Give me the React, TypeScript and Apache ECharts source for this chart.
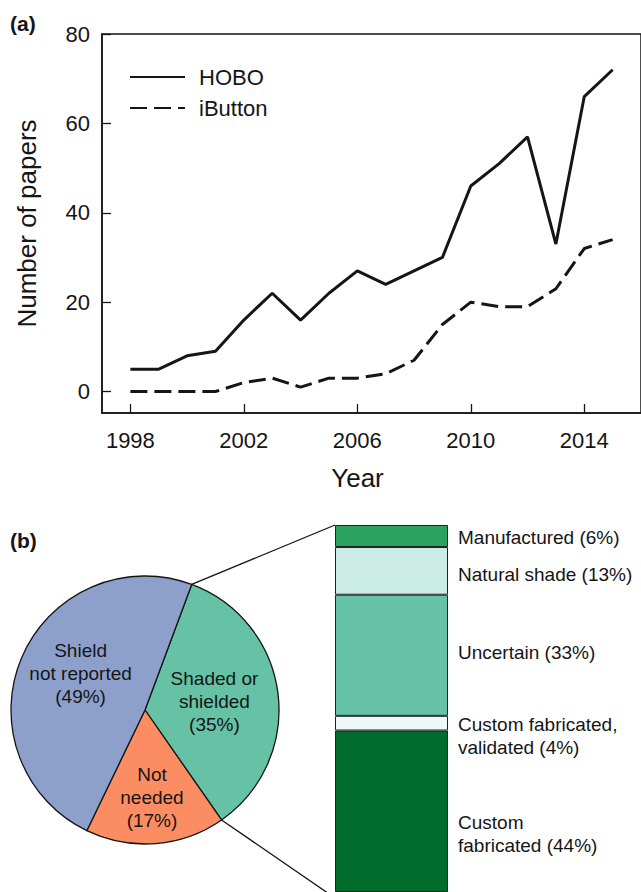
import React, { useEffect, useRef } from "react";
import * as echarts from "echarts";

const years = [1998, 1999, 2000, 2001, 2002, 2003, 2004, 2005, 2006, 2007, 2008, 2009, 2010, 2011, 2012, 2013, 2014, 2015];
const hobo = [5, 5, 8, 9, 16, 22, 16, 22, 27, 24, 27, 30, 46, 51, 57, 33, 66, 72];
const ibutton = [0, 0, 0, 0, 2, 3, 1, 3, 3, 4, 7, 15, 20, 19, 19, 23, 32, 34];
const xTicks = [1998, 2002, 2006, 2010, 2014];
const yTicks = [0, 20, 40, 60, 80];

const pieNames = ["Shaded or\nshielded", "Not\nneeded", "Shield\nnot reported"];
const pieValues = [35, 17, 49];
const pieColors = ["#66c2a5", "#fc8d62", "#8da0cb"];

const barNames = ["Manufactured", "Natural shade", "Uncertain", "Custom fabricated,\nvalidated", "Custom\nfabricated"];
const barValues = [6, 13, 33, 4, 44];
const barColors = ["#2ca25f", "#ccece6", "#66c2a4", "#edf8fb", "#006d2c"];

const FONT = "Liberation Sans, Arial, sans-serif";
const INK = "#151515";

// layout
const PIE_CX = 145;
const PIE_CY = 710;
const PIE_R = 134;
const PIE_START = 69.6; // degrees, echarts convention
const BAR_LEFT = 335;
const BAR_TOP = 525;
const BAR_W = 113;
const BAR_H = 373;
const LABEL_SIZE = 19;

// vertical nudges of labels (px, + = down)
const pieLabelShift = [0, 0, -9];
const barLabelShift = [1, 4, -3, 13, 23];

const withShift = (text: string, d: number) => {
  if (!d) return text;
  const h = Math.abs(d) * 2;
  const spacer = `{sp${h}| }`;
  return d > 0 ? `${spacer}\n${text}` : `${text}\n${spacer}`;
};
const spacerRich = (shifts: number[]) => {
  const rich: Record<string, any> = {};
  shifts.forEach((d) => {
    if (d) rich[`sp${Math.abs(d) * 2}`] = { lineHeight: Math.abs(d) * 2, fontSize: 1, height: Math.abs(d) * 2 };
  });
  return rich;
};

export default function App() {
  const ref = useRef<HTMLDivElement>(null);
  useEffect(() => {
    if (!ref.current) return;
    const chart = echarts.init(ref.current, undefined, { renderer: "svg" });

    const total = pieValues.reduce((a, b) => a + b, 0);
    // clockwise angles from north, in degrees
    const a1 = 90 - PIE_START;
    const a2 = a1 + (pieValues[0] / total) * 360;
    const pt = (deg: number) => {
      const r = (deg * Math.PI) / 180;
      return [PIE_CX + PIE_R * Math.sin(r), PIE_CY - PIE_R * Math.cos(r)];
    };
    const p1 = pt(a1);
    const p2 = pt(a2);

    const pieLabelBase = {
      position: "inside",
      fontSize: LABEL_SIZE,
      lineHeight: 23,
      color: INK,
      fontFamily: FONT,
      rich: spacerRich(pieLabelShift),
    };

    chart.setOption({
      animation: false,
      textStyle: { fontFamily: FONT },
      grid: [
        { left: 102, top: 34, width: 542, height: 379, show: true, borderColor: INK, borderWidth: 1.5, containLabel: false },
        { left: BAR_LEFT, top: BAR_TOP, width: BAR_W, height: BAR_H, containLabel: false },
      ],
      legend: {
        data: ["HOBO", "iButton"],
        orient: "vertical",
        left: 129,
        top: 66,
        padding: 0,
        itemWidth: 55,
        itemHeight: 20,
        itemGap: 9,
        itemStyle: { opacity: 0 },
        textStyle: { fontSize: 22, color: INK, fontFamily: FONT, padding: [0, 0, 0, 9] },
        selectedMode: false,
      },
      xAxis: [
        {
          gridIndex: 0,
          type: "value",
          min: 1997,
          max: 2016,
          name: "Year",
          nameLocation: "middle",
          nameGap: 52,
          nameTextStyle: { fontSize: 26, color: INK, fontFamily: FONT, padding: [0, 28, 0, 0] },
          axisLine: { show: true, onZero: false, lineStyle: { color: INK, width: 1.5 } },
          axisTick: { show: true, inside: true, length: 9, customValues: xTicks, lineStyle: { color: INK, width: 1.3 } },
          axisLabel: { customValues: xTicks, fontSize: 22, color: INK, margin: 16, fontFamily: FONT, formatter: (v: number) => String(v) },
          splitLine: { show: false },
        },
        { gridIndex: 1, type: "category", data: ["shield"], show: false },
      ],
      yAxis: [
        {
          gridIndex: 0,
          type: "value",
          min: -4.8,
          max: 80,
          name: "Number of papers",
          nameLocation: "middle",
          nameGap: 62,
          nameTextStyle: { fontSize: 26, color: INK, fontFamily: FONT },
          axisLine: { show: true, onZero: false, lineStyle: { color: INK, width: 1.5 } },
          axisTick: { show: true, inside: true, length: 9, customValues: yTicks, lineStyle: { color: INK, width: 1.3 } },
          axisLabel: { customValues: yTicks, fontSize: 22, color: INK, margin: 12, fontFamily: FONT, formatter: (v: number) => String(v) },
          splitLine: { show: false },
        },
        { gridIndex: 1, type: "value", min: 0, max: 100, inverse: true, show: false },
      ],
      series: [
        {
          name: "HOBO",
          type: "line",
          xAxisIndex: 0,
          yAxisIndex: 0,
          data: years.map((y, i) => [y, hobo[i]]),
          symbol: "none",
          lineStyle: { color: INK, width: 3 },
          itemStyle: { color: INK },
        },
        {
          name: "iButton",
          type: "line",
          xAxisIndex: 0,
          yAxisIndex: 0,
          data: years.map((y, i) => [y, ibutton[i]]),
          symbol: "none",
          lineStyle: { color: INK, width: 3, type: [17, 7] },
          itemStyle: { color: INK },
        },
        {
          type: "pie",
          center: [PIE_CX, PIE_CY],
          radius: PIE_R,
          startAngle: PIE_START,
          clockwise: true,
          silent: true,
          emphasis: { disabled: true },
          itemStyle: { borderColor: INK, borderWidth: 1.3 },
          label: {
            ...pieLabelBase,
            show: true,
            formatter: (p: any) => withShift(`${p.name}\n(${p.value}%)`, pieLabelShift[p.dataIndex]),
          },
          labelLine: { show: false },
          data: pieNames.map((n, i) => ({
            name: n,
            value: pieValues[i],
            itemStyle: { color: pieColors[i] },
            label: { show: i !== 1 },
          })),
        },
        {
          // label carrier for the narrow slice: same angles, wider radius
          type: "pie",
          center: [PIE_CX, PIE_CY],
          radius: [0, 170],
          startAngle: PIE_START,
          clockwise: true,
          silent: true,
          z: 3,
          emphasis: { disabled: true },
          itemStyle: { color: "rgba(0,0,0,0)", borderWidth: 0 },
          label: {
            ...pieLabelBase,
            show: true,
            formatter: (p: any) => `${p.name}\n(${p.value}%)`,
          },
          labelLine: { show: false },
          data: pieNames.map((n, i) => ({
            name: n,
            value: pieValues[i],
            label: { show: i === 1 },
          })),
        },
        ...barNames.map((n, i) => ({
          name: n,
          type: "bar",
          xAxisIndex: 1,
          yAxisIndex: 1,
          stack: "shield",
          barWidth: BAR_W,
          silent: true,
          data: [barValues[i]],
          itemStyle: { color: barColors[i], borderColor: "#222", borderWidth: 1 },
          label: {
            show: true,
            position: "right",
            distance: 10,
            fontSize: LABEL_SIZE,
            lineHeight: 23,
            color: INK,
            fontFamily: FONT,
            rich: spacerRich(barLabelShift),
            formatter: (p: any) => withShift(`${p.seriesName} (${p.value}%)`, barLabelShift[i]),
          },
        })),
      ],
      graphic: [
        { type: "text", x: 10, y: 23, style: { text: "(a)", font: `bold 21px ${FONT}`, fill: INK, verticalAlign: "middle" } },
        { type: "text", x: 10, y: 540, style: { text: "(b)", font: `bold 21px ${FONT}`, fill: INK, verticalAlign: "middle" } },
        {
          type: "line",
          shape: { x1: p1[0], y1: p1[1], x2: BAR_LEFT, y2: BAR_TOP },
          style: { stroke: INK, lineWidth: 1.3 },
          z: 10,
        },
        {
          type: "line",
          shape: { x1: p2[0], y1: p2[1], x2: BAR_LEFT, y2: BAR_TOP + BAR_H },
          style: { stroke: INK, lineWidth: 1.3 },
          z: 10,
        },
      ],
    });
    return () => chart.dispose();
  }, []);
  return <div ref={ref} style={{ position: "absolute", left: 0, top: 0, width: 641, height: 892 }} />;
}
